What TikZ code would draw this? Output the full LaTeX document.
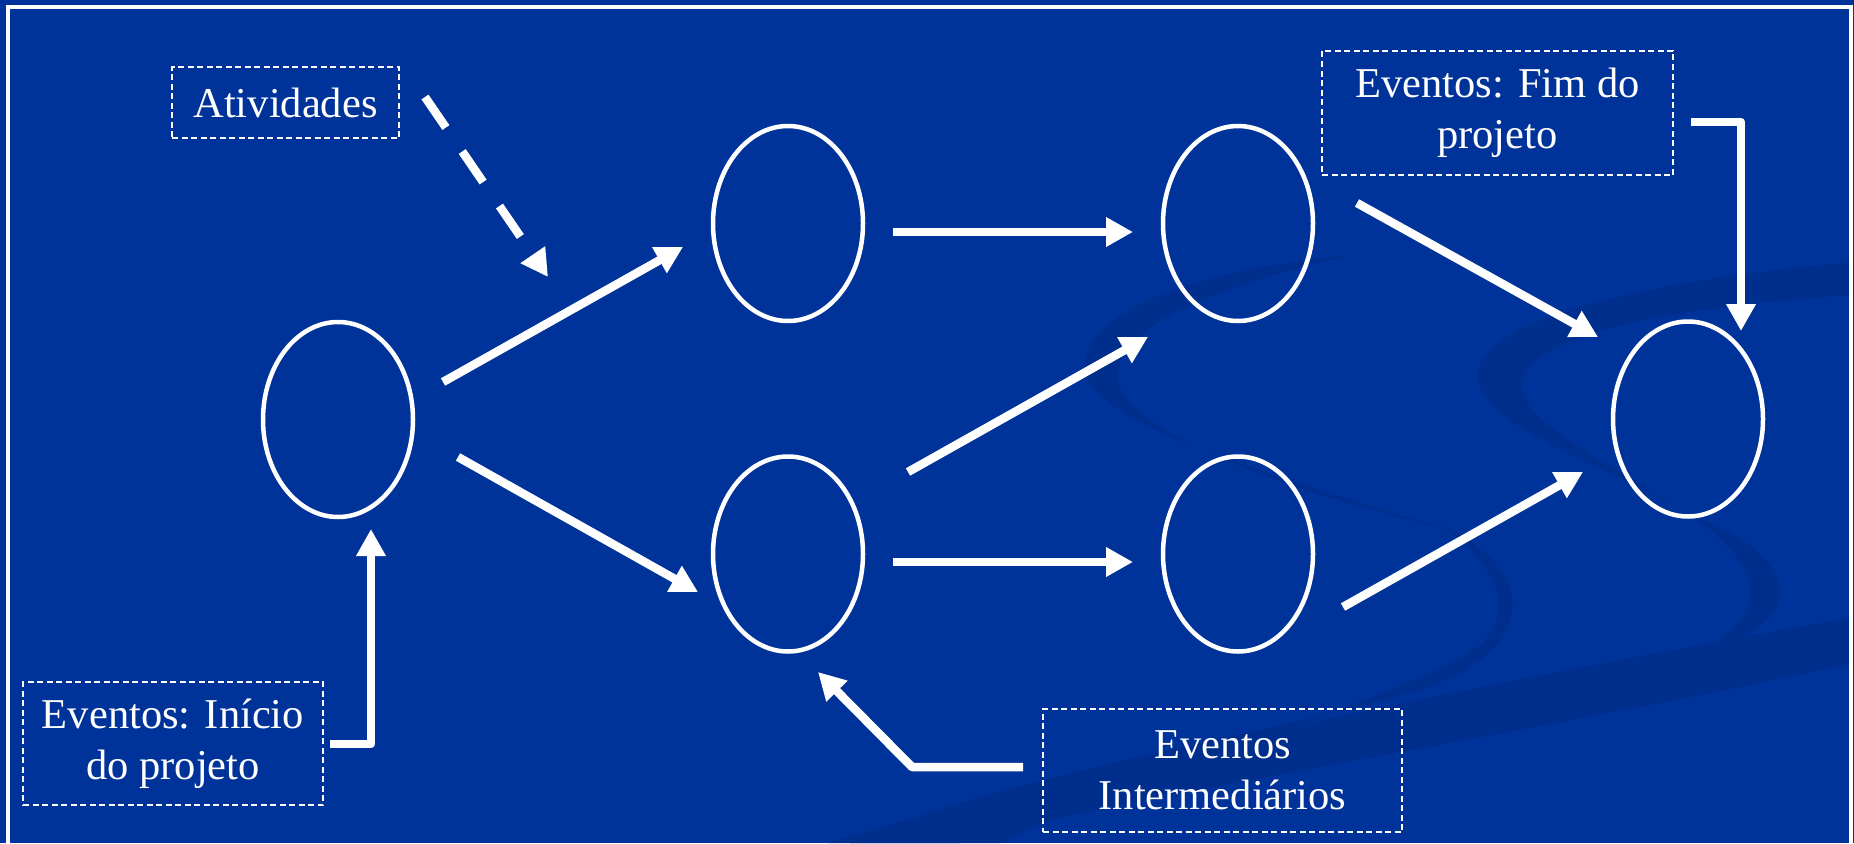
\documentclass[tikz,border=0pt]{standalone}
\usepackage{fontspec}
\setmainfont{Liberation Serif}
\usetikzlibrary{arrows.meta,shapes.geometric,calc}
\definecolor{bgblue}{RGB}{0,51,153}
\definecolor{swirl}{RGB}{0,46,141}
\begin{document}
\begin{tikzpicture}[x=1pt,y=-1pt,
  evt/.style={ellipse, draw=white, line width=4.5pt, minimum width=150pt, minimum height=195pt, inner sep=0pt, outer sep=0pt},
  lbl/.style={draw=white, line width=2.3pt, dash pattern=on 6pt off 3.5pt, text=white, align=center, font=\fontsize{42.5}{51}\selectfont, inner sep=0pt, outer sep=0pt},
  arr/.style={white, line width=8.5pt, -{Triangle[length=27pt,width=28pt]}, line join=round},
  dasharr/.style={arr, dash pattern=on 37pt off 29pt},
  swirlfill/.style={fill=swirl, draw=none}
]
\useasboundingbox (0,0) rectangle (1854,843);
\clip (0,0) rectangle (1854,843);
\fill[bgblue] (0,0) rectangle (1854,843);

% background swirls
\path[swirlfill] (1350,255) .. controls (1200,270) and (1080,310) .. (1085,370)
  .. controls (1090,420) and (1250,470) .. (1450,530)
  .. controls (1260,485) and (1120,425) .. (1118,378)
  .. controls (1116,325) and (1220,285) .. (1350,255) -- cycle;
\path[swirlfill] (1440,525) .. controls (1540,570) and (1540,650) .. (1420,690)
  .. controls (1300,728) and (1000,775) .. (850,843) -- (1000,843)
  .. controls (1150,770) and (1400,700) .. (1480,645)
  .. controls (1515,615) and (1500,565) .. (1440,525) -- cycle;
\path[swirlfill] (1854,262) .. controls (1650,280) and (1470,320) .. (1478,380)
  .. controls (1485,430) and (1620,470) .. (1700,520)
  .. controls (1600,460) and (1520,420) .. (1522,385)
  .. controls (1525,330) and (1700,305) .. (1854,295) -- cycle;
\path[swirlfill] (1690,515) .. controls (1800,555) and (1820,625) .. (1690,655)
  .. controls (1770,620) and (1770,570) .. (1690,515) -- cycle;
\path[swirlfill] (1854,617) -- (1854,663) .. controls (1500,740) and (1100,800) .. (960,843)
  -- (828,843) .. controls (1100,760) and (1500,680) .. (1854,617) -- cycle;

% frame
\draw[white, line width=4pt] (8,900) -- (8,7) -- (1851,7) -- (1851,900);

% event nodes
\node[evt] (E0) at (338,419.5) {};
\node[evt] (E1) at (788,223.5) {};
\node[evt] (E2) at (788,554) {};
\node[evt] (E3) at (1238,223.5) {};
\node[evt] (E4) at (1238,554) {};
\node[evt] (E5) at (1688,419) {};

% labels
\node[lbl, minimum width=227pt, minimum height=71pt] (A) at (285.5,102.5) {Atividades};
\node[lbl, minimum width=351pt, minimum height=124pt] (F) at (1497.5,113) {Eventos: Fim do\\projeto};
\node[lbl, minimum width=300pt, minimum height=123pt] (I) at (173,743.5) {Eventos: Início\\do projeto};
\node[lbl, minimum width=359pt, minimum height=123pt] (M) at (1222.5,770.5) {Eventos\\Intermediários};

% activity arrows
\draw[arr] ($(E0.center)+(105,-37.5)$) -- ($(E1.center)+(-105,23.5)$);
\draw[arr] ($(E0.center)+(120,37.5)$) -- ($(E2.center)+(-90,38)$);
\draw[arr] ($(E1.center)+(105,8.5)$) -- ($(E3.center)+(-105,8.5)$);
\draw[arr] ($(E2.center)+(105,8)$) -- ($(E4.center)+(-105,8)$);
\draw[arr] ($(E2.center)+(120,-82)$) -- ($(E3.center)+(-90,113.5)$);
\draw[arr] ($(E3.center)+(119,-20.5)$) -- ($(E5.center)+(-90,-82)$);
\draw[arr] ($(E4.center)+(105,53)$) -- ($(E5.center)+(-105,53)$);

% label pointers
\coordinate (atip) at (548,277);
\draw[dasharr] ($(A.east)+(26,-5.5)$) -- (atip);
\draw[arr] ($(I.east)+(7,0.5)$) -| ($(E0.center)+(33,109.5)$);
\draw[arr] ($(F.east)+(18,9)$) -| ($(E5.center)+(53,-88)$);
\draw[arr] ($(M.west)+(-20,-3.5)$) -- ($(M.west)+(-131,-3.5)$) -- ($(E2.center)+(30,118)$);
\end{tikzpicture}
\end{document}
